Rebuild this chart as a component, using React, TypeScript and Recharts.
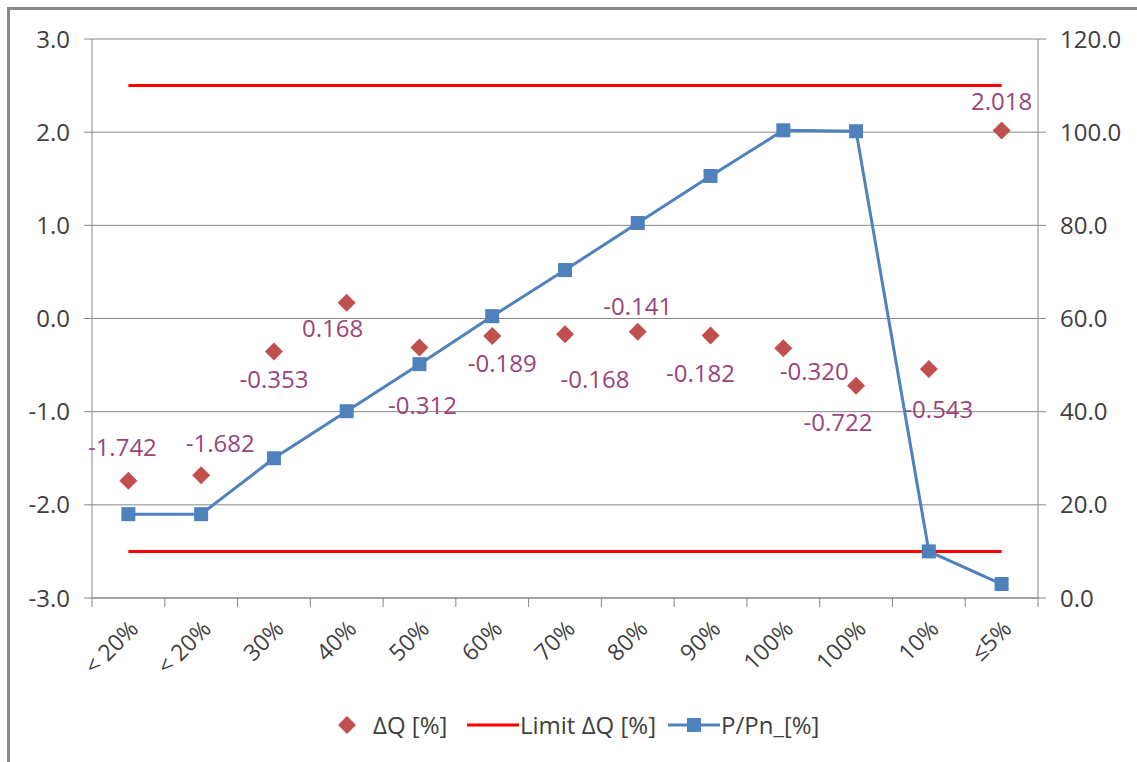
import React from 'react';
import { ComposedChart, Line, XAxis, YAxis, CartesianGrid, LabelList } from 'recharts';

const categories = ['< 20%', '< 20%', '30%', '40%', '50%', '60%', '70%', '80%', '90%', '100%', '100%', '10%', '≤5%'];
const deltaQ = [-1.742, -1.682, -0.353, 0.168, -0.312, -0.189, -0.168, -0.141, -0.182, -0.32, -0.722, -0.543, 2.018];
const pPn = [18, 18, 30, 40.1, 50.2, 60.5, 70.4, 80.5, 90.6, 100.4, 100.2, 10, 3];
const limitHigh = 2.5;
const limitLow = -2.5;
const leftTicks = [-3, -2, -1, 0, 1, 2, 3];
const rightTicks = [0, 20, 40, 60, 80, 100, 120];

// label placement offsets (dx, dy) relative to each ΔQ point
const LABEL_OFFSETS: [number, number][] = [
  [-6, -34], [19, -33], [0, 27], [-14, 25], [3, 57], [10, 26], [30, 44],
  [0, -26], [-10, 37], [31, 22], [-18, 36], [10, 39], [0, -30],
];

const data = categories.map((c, i) => ({
  cat: c,
  dq: deltaQ[i],
  hi: limitHigh,
  lo: limitLow,
  p: pPn[i],
}));

const CHART_W = 1137;
const CHART_H = 762;
const LEFT_W = 92;
const RIGHT_W = 99;
const PLOT_W = CHART_W - LEFT_W - RIGHT_W;
const HALF_BAND = PLOT_W / categories.length / 2;

const FONT = '"Open Sans", "Noto Sans", sans-serif';
const AXIS = '#868686';
const TEXT = '#404040';
const RED = '#FF0000';
const BLUE = '#4F81BD';
const DIAMOND = '#C0504D';
const LABEL = '#9B4479';

const XTick = (props: any) => {
  const { x, y, payload, index, visibleTicksCount } = props;
  const last = index === (visibleTicksCount ?? categories.length) - 1;
  const tx = x + 5;
  const ty = y + 26;
  return (
    <g>
      <line x1={x - HALF_BAND} x2={x - HALF_BAND} y1={y} y2={y + 9} stroke={AXIS} strokeWidth={1} />
      {last && <line x1={x + HALF_BAND} x2={x + HALF_BAND} y1={y} y2={y + 9} stroke={AXIS} strokeWidth={1} />}
      <text
        x={tx}
        y={ty}
        textAnchor="end"
        dominantBaseline="central"
        transform={`rotate(-45, ${tx}, ${ty})`}
        fill={TEXT}
        fontSize={23}
        fontFamily={FONT}
      >
        {payload.value}
      </text>
    </g>
  );
};

const Diamond = (props: any) => {
  const { cx, cy } = props;
  if (cx == null || cy == null) return null;
  const r = 9;
  return <path d={`M${cx},${cy - r}L${cx + r},${cy}L${cx},${cy + r}L${cx - r},${cy}Z`} fill={DIAMOND} />;
};

const Square = (props: any) => {
  const { cx, cy } = props;
  if (cx == null || cy == null) return null;
  return <rect x={cx - 7} y={cy - 7} width={14} height={14} fill={BLUE} />;
};

const DqLabel = (props: any) => {
  const { x, y, value, index } = props;
  const [dx, dy] = LABEL_OFFSETS[index] || [0, -20];
  return (
    <text
      x={x + dx}
      y={y + dy}
      textAnchor="middle"
      dominantBaseline="central"
      fill={LABEL}
      fontSize={24}
      fontFamily={FONT}
    >
      {Number(value).toFixed(3)}
    </text>
  );
};

const legendText: React.CSSProperties = {
  fontFamily: FONT,
  fontSize: 24,
  lineHeight: '32px',
  color: TEXT,
  whiteSpace: 'nowrap',
};

export default function App() {
  return (
    <div style={{ position: 'absolute', left: 0, top: 0, width: CHART_W, height: CHART_H, background: '#fff', overflow: 'hidden' }}>
      <div
        style={{
          position: 'absolute',
          left: 7,
          top: 7,
          width: 1140,
          height: 760,
          borderLeft: '3px solid #8a8a8a',
          borderTop: '3px solid #8a8a8a',
        }}
      />
      <div style={{ position: 'absolute', left: 0, top: 0 }}>
        <ComposedChart width={CHART_W} height={CHART_H} data={data} margin={{ top: 39, right: 0, left: 0, bottom: 0 }}>
          <CartesianGrid yAxisId="left" vertical={false} stroke={AXIS} strokeWidth={1} />
          <XAxis
            dataKey="cat"
            height={164}
            interval={0}
            padding={{ left: HALF_BAND, right: HALF_BAND }}
            tickLine={false}
            tickSize={0}
            tickMargin={0}
            axisLine={{ stroke: AXIS }}
            tick={<XTick />}
          />
          <YAxis
            yAxisId="left"
            domain={[-3, 3]}
            ticks={leftTicks}
            interval={0}
            width={LEFT_W}
            tickFormatter={(v: number) => v.toFixed(1)}
            axisLine={{ stroke: AXIS }}
            tickLine={{ stroke: AXIS }}
            tickSize={8}
            tickMargin={14}
            tick={{ fill: TEXT, fontSize: 24, fontFamily: FONT }}
          />
          <YAxis
            yAxisId="right"
            orientation="right"
            domain={[0, 120]}
            ticks={rightTicks}
            interval={0}
            width={RIGHT_W}
            tickFormatter={(v: number) => v.toFixed(1)}
            axisLine={{ stroke: AXIS }}
            tickLine={{ stroke: AXIS }}
            tickSize={8}
            tickMargin={14}
            tick={{ fill: TEXT, fontSize: 24, fontFamily: FONT, textAnchor: 'start' }}
          />
          <Line yAxisId="left" dataKey="hi" stroke={RED} strokeWidth={3} dot={false} activeDot={false} isAnimationActive={false} />
          <Line yAxisId="left" dataKey="lo" stroke={RED} strokeWidth={3} dot={false} activeDot={false} isAnimationActive={false} />
          <Line yAxisId="right" dataKey="p" stroke={BLUE} strokeWidth={3} dot={<Square />} activeDot={false} isAnimationActive={false} />
          <Line yAxisId="left" dataKey="dq" stroke="none" dot={<Diamond />} activeDot={false} isAnimationActive={false}>
            <LabelList dataKey="dq" content={<DqLabel />} />
          </Line>
        </ComposedChart>
      </div>
      <div style={{ position: 'absolute', left: 0, top: 709, width: CHART_W, height: 32 }}>
        <svg style={{ position: 'absolute', left: 338, top: 7 }} width={18} height={18}>
          <path d="M9,0L18,9L9,18L0,9Z" fill={DIAMOND} />
        </svg>
        <span style={{ ...legendText, position: 'absolute', left: 373, top: 0 }}>ΔQ [%]</span>
        <svg style={{ position: 'absolute', left: 467, top: 14 }} width={52} height={4}>
          <line x1={0} x2={52} y1={2} y2={2} stroke={RED} strokeWidth={3} />
        </svg>
        <span style={{ ...legendText, position: 'absolute', left: 520, top: 0 }}>Limit ΔQ [%]</span>
        <svg style={{ position: 'absolute', left: 668, top: 9 }} width={52} height={14}>
          <line x1={0} x2={52} y1={7} y2={7} stroke={BLUE} strokeWidth={3} />
          <rect x={19} y={0} width={14} height={14} fill={BLUE} />
        </svg>
        <span style={{ ...legendText, position: 'absolute', left: 721, top: 0 }}>P/Pn_[%]</span>
      </div>
    </div>
  );
}
